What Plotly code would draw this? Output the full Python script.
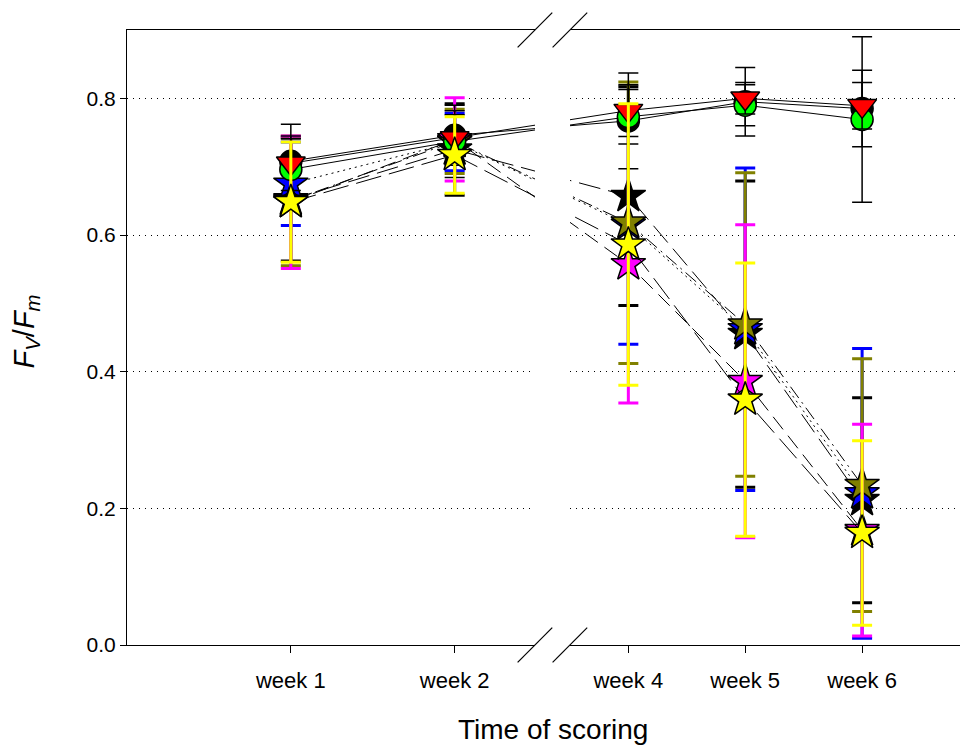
import plotly.graph_objects as go

# ---------------- data ----------------
weeks = [1, 2, 4, 5, 6]
week_labels = ["week 1", "week 2", "week 4", "week 5", "week 6"]
y_ticks = [0.0, 0.2, 0.4, 0.6, 0.8]

ctrl_black = [0.708, 0.746, 0.767, 0.795, 0.785]
ctrl_black_sd = [0.054, 0.030, 0.070, 0.050, 0.056]
ctrl_green = [0.696, 0.737, 0.773, 0.790, 0.769]
ctrl_green_sd = [0.045, 0.053, 0.040, 0.030, 0.121]
ctrl_red = [0.705, 0.742, 0.782, 0.800, 0.789]
ctrl_red_sd = [0.040, 0.040, 0.038, 0.023, 0.034]

star_black = [0.652, 0.725, 0.657, 0.455, 0.212]
star_black_sd = [0.090, 0.067, 0.160, 0.224, 0.150]
star_blue = [0.675, 0.736, 0.615, 0.462, 0.222]
star_blue_sd = [0.061, 0.042, 0.175, 0.236, 0.212]
star_olive = [0.650, 0.737, 0.618, 0.469, 0.234]
star_olive_sd = [0.095, 0.047, 0.206, 0.222, 0.185]
star_magenta = [0.648, 0.740, 0.557, 0.386, 0.168]
star_magenta_sd = [0.097, 0.061, 0.203, 0.229, 0.155]
star_yellow = [0.648, 0.717, 0.586, 0.359, 0.164]
star_yellow_sd = [0.088, 0.056, 0.206, 0.200, 0.135]

# ---------------- broken axis transform ----------------
BREAK_START, BREAK_END = 2.49, 3.5   # hidden interval (weeks)
RIGHT_SCALE = 117 / 164              # right segment is compressed
GAP = 35 / 164                       # visual gap width (axis units)
X_MAX_WEEK = 6.906


def axis_pos(w):
    if w <= BREAK_START:
        return w
    return BREAK_START + GAP + (w - BREAK_END) * RIGHT_SCALE


left_range = [0, BREAK_START]
right_range = [axis_pos(BREAK_END), axis_pos(X_MAX_WEEK)]
total = right_range[1]
left_dom = [0, left_range[1] / total]
right_dom = [right_range[0] / total, 1]

xpos = [axis_pos(w) for w in weeks]

FONT = "Liberation Sans, Arial, sans-serif"

# drawing order (later = on top)
series = [
    # name, y, sd, symbol, fill, size, dash, errcolor, errwidth
    ("star black", star_black, star_black_sd, "star", "#000000", 26, "22px,8px", "#000000", 3),
    ("star blue", star_blue, star_blue_sd, "star", "#0000ff", 26, "2px,4px", "#0000ff", 3),
    ("star olive", star_olive, star_olive_sd, "star", "#808000", 26, "14px,5px,2px,5px", "#808000", 3),
    ("star magenta", star_magenta, star_magenta_sd, "star", "#ff00ff", 26, "16px,8px", "#ff00ff", 3),
    ("ctrl black", ctrl_black, ctrl_black_sd, "circle", "#000000", 22, "solid", "#000000", 1.5),
    ("ctrl green", ctrl_green, ctrl_green_sd, "circle", "#00ff00", 22, "solid", "#000000", 1.5),
    ("ctrl red", ctrl_red, ctrl_red_sd, "triangle-down", "#ff0000", 25, "solid", "#000000", 1.5),
    ("star yellow", star_yellow, star_yellow_sd, "star", "#ffff00", 26, "26px,8px", "#ffff00", 3),
]

fig = go.Figure()
for xa, ya in (("x", "y"), ("x2", "y2")):
    for name, yv, sd, sym, fill, size, dash, ecol, ew in series:
        fig.add_trace(go.Scatter(
            x=xpos, y=yv, xaxis=xa, yaxis=ya, name=name, showlegend=False,
            mode="lines+markers",
            line=dict(color="black", width=1, dash=dash),
            marker=dict(symbol=sym, size=size, color=fill,
                        line=dict(color="black", width=1.5)),
            error_y=dict(type="data", array=sd, visible=True, color=ecol,
                         thickness=ew, width=10),
        ))

grid = dict(showgrid=True, gridcolor="black", gridwidth=1, griddash="1px,5px")

xcommon = dict(
    tickmode="array", tickvals=xpos, ticktext=week_labels,
    ticks="outside", ticklen=7, tickcolor="black", tickwidth=1,
    showline=True, linecolor="black", linewidth=1, mirror=True,
    showgrid=False, zeroline=False,
    tickfont=dict(family=FONT, size=22, color="black"),
    ticklabelstandoff=9,
)

# page body has an 8px margin: shift the figure so the plot area lands at
# x 127..968, y 30..645 of the window
fig.update_layout(
    width=960, height=738,
    margin=dict(l=119, r=0, t=22, b=101),
    paper_bgcolor="white", plot_bgcolor="white",
    font=dict(family=FONT, color="black"),
    xaxis=dict(domain=left_dom, range=left_range, anchor="y", **xcommon),
    xaxis2=dict(domain=right_dom, range=right_range, anchor="y2", **xcommon),
    yaxis=dict(domain=[0, 1], range=[0, 0.9], anchor="x",
               tickmode="array", tickvals=y_ticks, tickformat=".1f",
               ticks="outside", ticklen=6, tickcolor="black",
               showline=True, linecolor="black", linewidth=1, mirror=False,
               zeroline=False, tickfont=dict(family=FONT, size=21, color="black"),
               **grid),
    yaxis2=dict(domain=[0, 1], range=[0, 0.9], anchor="x2", matches="y",
                tickmode="array", tickvals=y_ticks,
                showticklabels=False, ticks="", showline=False,
                zeroline=False, **grid),
)

# break marks on top and bottom axis lines
px_w, px_h = 841, 615
dx, dy = 17.3 / px_w, 17.3 / px_h
for xc in (left_dom[1], right_dom[0]):
    for yc in (0, 1):
        fig.add_shape(type="line", xref="paper", yref="paper",
                      x0=xc - dx, x1=xc + dx, y0=yc - dy, y1=yc + dy,
                      line=dict(color="black", width=1.2))

fig.add_annotation(text="Time of scoring", xref="paper", yref="paper",
                   x=0.5065, y=-0.138, xanchor="center", yanchor="middle",
                   showarrow=False, font=dict(family=FONT, size=28, color="black"))
fig.add_annotation(text="<i>F</i><sub><i>V</i></sub>/<i>F</i><sub><i>m</i></sub>",
                   xref="paper", yref="paper", x=-0.12, y=0.51,
                   xanchor="center", yanchor="middle", textangle=-90,
                   showarrow=False, font=dict(family=FONT, size=29, color="black"))

fig.write_html("out.html")
